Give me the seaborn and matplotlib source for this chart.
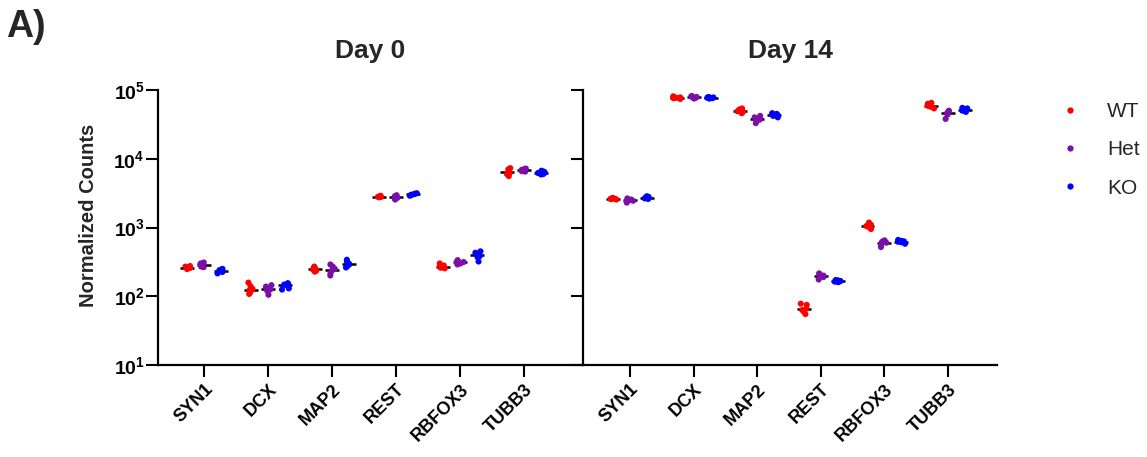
import matplotlib
matplotlib.use("Agg")
import matplotlib.pyplot as plt
from matplotlib.lines import Line2D
import seaborn as sns
import pandas as pd
import numpy as np

genes = ["SYN1", "DCX", "MAP2", "REST", "RBFOX3", "TUBB3"]
groups = ["WT", "Het", "KO"]
colors = ["#FF0000", "#7B0FA8", "#0000FF"]

# replicate values per gene (order as in genes)
day0_wt = [[255, 262, 270, 248, 275, 258], [108, 115, 122, 128, 140, 158],
           [235, 250, 260, 245, 270, 228], [2750, 2800, 2850, 2780, 2900, 2820],
           [255, 265, 280, 300, 270, 260], [5600, 6000, 6200, 6600, 7000, 7300]]
day0_het = [[270, 285, 300, 265, 290, 310], [105, 125, 130, 138, 120, 145],
            [200, 215, 235, 250, 270, 290], [2550, 2700, 2850, 2950, 2650, 2800],
            [290, 310, 325, 300, 335, 315], [6500, 6800, 7100, 6900, 6600, 7200]]
day0_ko = [[225, 240, 250, 232, 215, 245], [130, 145, 150, 155, 148, 125],
           [275, 300, 320, 340, 290, 262], [2900, 3000, 3150, 2950, 3100, 3050],
           [320, 370, 400, 430, 450, 385], [6000, 6300, 6500, 6700, 6200, 5900]]
day14_wt = [[2550, 2600, 2650, 2700, 2580, 2620], [74000, 77000, 79000, 81000, 76000, 78000],
            [46000, 48000, 50000, 52000, 54000, 49000], [55, 60, 63, 66, 75, 78],
            [950, 1000, 1050, 1100, 1180, 1020], [54000, 57000, 60000, 63000, 65000, 59000]]
day14_het = [[2300, 2450, 2550, 2650, 2500, 2400], [75000, 78000, 80000, 82000, 77000, 79000],
             [33000, 36000, 38000, 40000, 42000, 37000], [175, 190, 200, 210, 215, 195],
             [520, 560, 600, 630, 650, 610], [38000, 44000, 47000, 49000, 50000, 46000]]
day14_ko = [[2650, 2750, 2800, 2850, 2700, 2600], [75000, 77000, 78000, 79000, 76000, 78500],
            [40000, 42000, 44000, 46000, 45000, 43000], [160, 163, 167, 170, 165, 172],
            [580, 610, 630, 660, 640, 620], [48000, 50000, 52000, 54000, 55000, 51000]]

panel_titles = ["Day 0", "Day 14"]
ytick_vals = [10, 100, 1000, 10000, 100000]
ytick_labels = [r"$\mathbf{10^{1}}$", r"$\mathbf{10^{2}}$", r"$\mathbf{10^{3}}$",
                r"$\mathbf{10^{4}}$", r"$\mathbf{10^{5}}$"]


def to_frame(wt, het, ko):
    rows = []
    for g, series in zip(groups, [wt, het, ko]):
        for gene, vals in zip(genes, series):
            for v in vals:
                rows.append({"gene": gene, "group": g, "count": v})
    return pd.DataFrame(rows)


frames = [to_frame(day0_wt, day0_het, day0_ko), to_frame(day14_wt, day14_het, day14_ko)]

sns.set_theme(style="ticks")
plt.rcParams["font.family"] = ["Liberation Sans", "DejaVu Sans"]
plt.rcParams["mathtext.fontset"] = "custom"
plt.rcParams["mathtext.rm"] = "Liberation Sans"
plt.rcParams["mathtext.bf"] = "Liberation Sans:bold"

np.random.seed(3)  # deterministic horizontal jitter of the dots

W, H = 1147, 457
fig = plt.figure(figsize=(W / 100, H / 100), dpi=100)
bottom = 1 - 365 / H
height = (365 - 90) / H
ax0 = fig.add_axes([158 / W, bottom, (583 - 158) / W, height])
ax1 = fig.add_axes([583 / W, bottom, (997 - 583) / W, height])
xlims = [(-0.72, 5.92), (-0.74, 5.77)]
pal = dict(zip(groups, colors))

for i, (ax, df) in enumerate(zip([ax0, ax1], frames)):
    ax.set_yscale("log")
    sns.boxplot(data=df, x="gene", y="count", hue="group", order=genes,
                hue_order=groups, dodge=True, width=0.8, gap=0.18, ax=ax,
                legend=False, showbox=False, showcaps=False, showfliers=False,
                whiskerprops={"visible": False},
                medianprops={"color": "black", "linewidth": 1.8}, zorder=1)
    sns.stripplot(data=df, x="gene", y="count", hue="group", order=genes,
                  hue_order=groups, palette=pal, dodge=True, size=4.4,
                  jitter=0.18, ax=ax, legend=False, linewidth=0, zorder=2)
    ax.set_ylim(10, 100000)
    ax.set_xlim(*xlims[i])
    ax.set_yticks(ytick_vals)
    ax.yaxis.set_minor_locator(matplotlib.ticker.NullLocator())
    if i == 0:
        ax.set_yticklabels(ytick_labels, fontsize=14)
    else:
        ax.set_yticklabels([])
    ax.set_xticks(range(len(genes)))
    ax.set_xticklabels(genes, rotation=45, ha="right", rotation_mode="anchor",
                       fontsize=13, fontweight="bold")
    ax.set_xlabel("")
    ax.set_ylabel("")
    ax.set_title(panel_titles[i], fontsize=19, fontweight="bold", pad=23)
    for s in ["top", "right"]:
        ax.spines[s].set_visible(False)
    for s in ["left", "bottom"]:
        ax.spines[s].set_linewidth(1.6)
        ax.spines[s].set_color("black")
    ax.tick_params(axis="both", which="major", length=8.5, width=1.5,
                   color="black", labelcolor="black", pad=1)
    ax.tick_params(axis="x", pad=3)
    ax.set_facecolor("white")

fig.text(88 / W, 1 - 215 / H, "Normalized Counts", rotation=90, ha="center",
         va="center", fontsize=14.5, fontweight="bold")
fig.text(6 / W, 1 - 27 / H, "A)", fontsize=27, fontweight="bold", va="center", ha="left")

handles = [Line2D([0], [0], marker="o", linestyle="", markersize=4.5,
                  markerfacecolor=c, markeredgewidth=0) for c in colors]
fig.legend(handles, groups, loc="upper left", bbox_to_anchor=(1055 / W, 1 - 98 / H),
           frameon=False, fontsize=15, handlelength=1.0, handletextpad=1.3,
           labelspacing=0.92, borderaxespad=0, borderpad=0.2)

fig.savefig("out.png", dpi=100, facecolor="white")
